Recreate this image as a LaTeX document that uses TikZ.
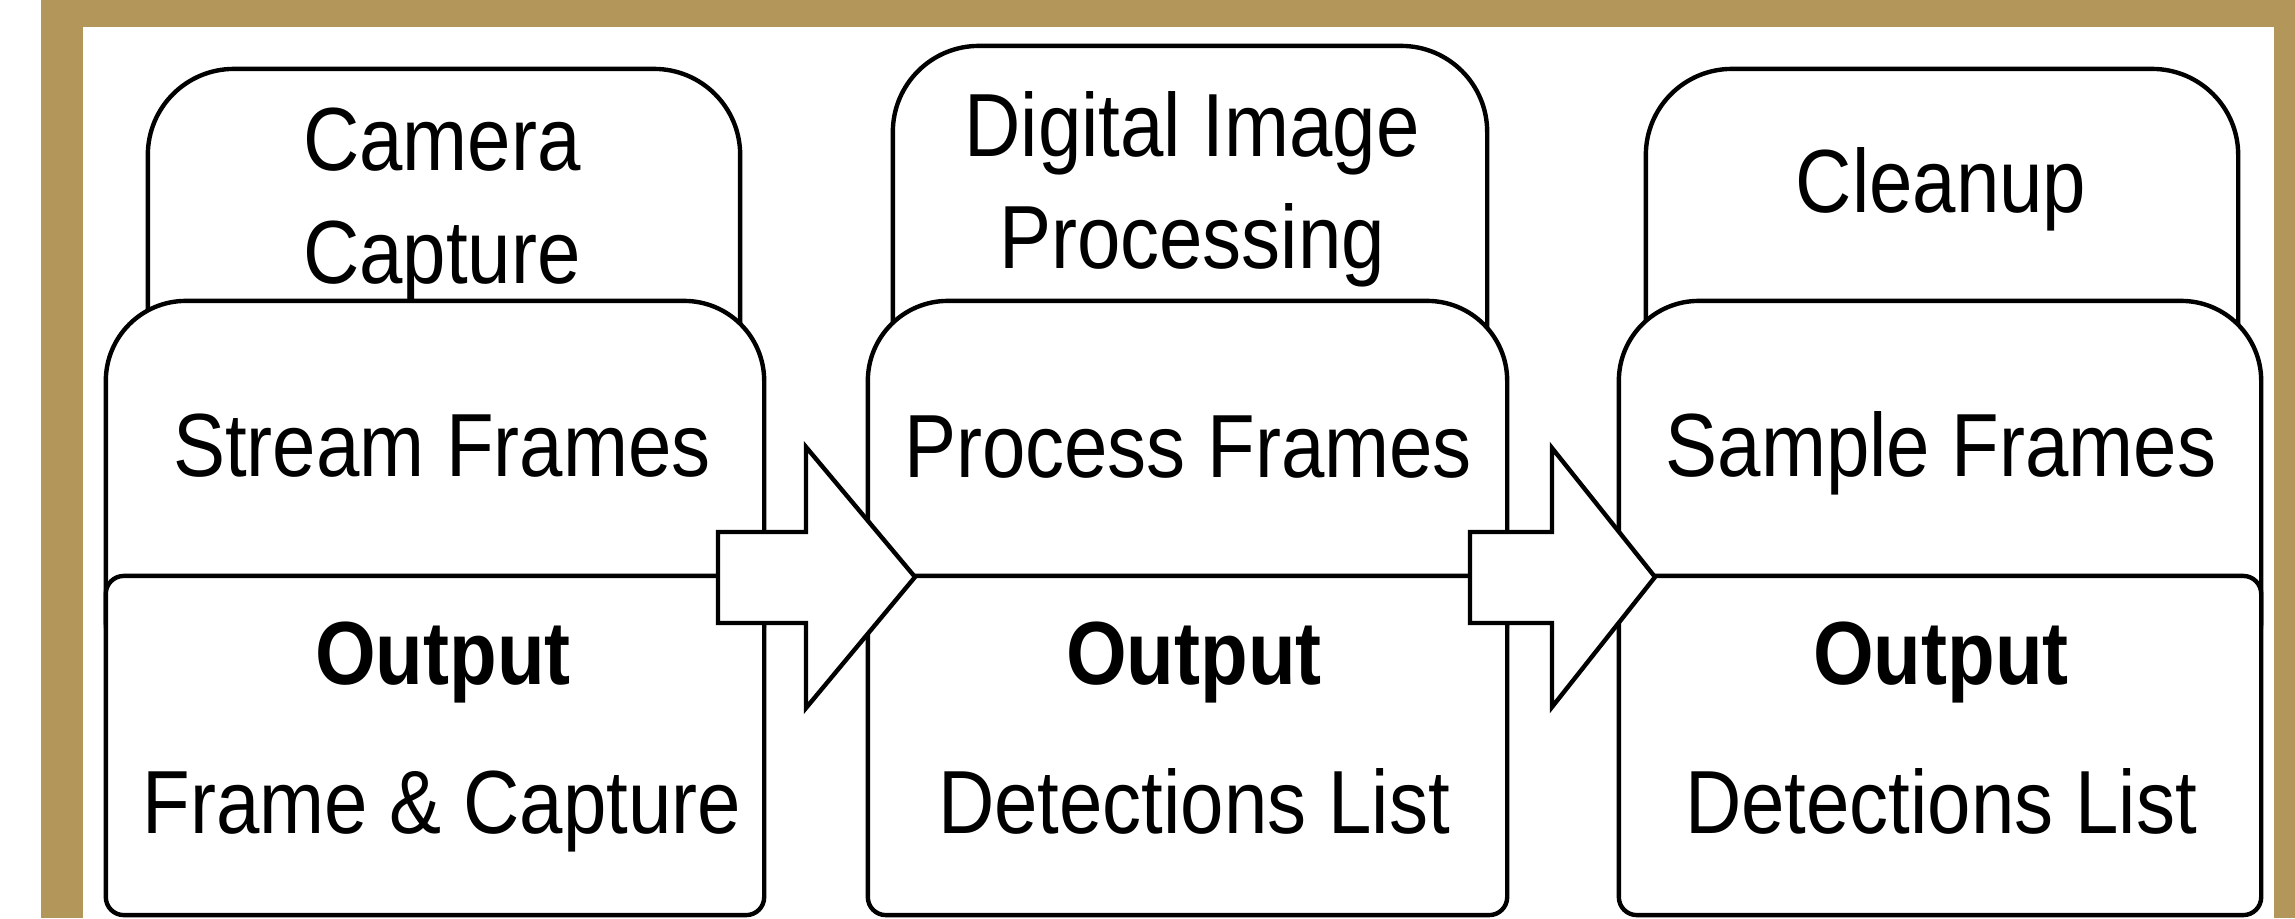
\documentclass[tikz,border=0pt]{standalone}
\usepackage{fontspec}
\setmainfont[FakeStretch=0.87]{Liberation Sans}
\definecolor{gold}{RGB}{179,151,90}
\tikzset{
  boxline/.style={draw=black, fill=white, line width=1.25pt, rectangle, inner sep=0pt},
  topbox/.style={boxline, rounded corners=0.86cm},
  midbox/.style={boxline, rounded corners=0.8cm},
  outbox/.style={boxline, rounded corners=0.18cm},
  lbl/.style={anchor=base, inner sep=0pt, font=\fontsize{25.5pt}{30pt}\selectfont},
  blbl/.style={lbl, font=\fontsize{25.5pt}{30pt}\selectfont\bfseries},
  blockarr/.style={draw=black, fill=white, line width=1.25pt, line join=miter}
}
\begin{document}
\begin{tikzpicture}[x=0.01cm, y=-0.01cm]
\useasboundingbox (0,0) rectangle (2295,918);
\fill[white] (0,0) rectangle (2295,918);
\fill[gold] (41,0) rectangle (83,918);
\fill[gold] (41,0) rectangle (2295,27);
\fill[gold] (2274,0) rectangle (2295,918);

% top boxes
\node[topbox, minimum width=5.92cm, minimum height=3.61cm] (c1top) at (444,249.5) {};
\node[topbox, minimum width=5.94cm, minimum height=3.84cm] (c2top) at (1190,238) {};
\node[topbox, minimum width=5.92cm, minimum height=3.61cm] (c3top) at (1942,249.5) {};

% middle boxes
\node[midbox, minimum width=6.58cm, minimum height=3.99cm] (c1mid) at (435,500.5) {};
\node[midbox, minimum width=6.39cm, minimum height=3.99cm] (c2mid) at (1187.5,500.5) {};
\node[midbox, minimum width=6.42cm, minimum height=3.99cm] (c3mid) at (1940,500.5) {};

% output boxes
\node[outbox, minimum width=6.58cm, minimum height=3.39cm] (c1out) at (435,745.5) {};
\node[outbox, minimum width=6.39cm, minimum height=3.39cm] (c2out) at (1187.5,745.5) {};
\node[outbox, minimum width=6.42cm, minimum height=3.39cm] (c3out) at (1940,745.5) {};

% block arrows
\coordinate (a1tip) at (915,577);
\coordinate (a2tip) at (1655,577);
\draw[blockarr] (a1tip) -- (806,447) -- (806,532) -- (718,532) -- (718,623) -- (806,623) -- (806,708) -- cycle;
\draw[blockarr] (a2tip) -- (1552,448) -- (1552,532) -- (1470,532) -- (1470,623) -- (1552,623) -- (1552,707) -- cycle;

% texts column 1
\node[lbl] (t1a) at (442,170) {Camera};
\node[lbl] (t1b) at (442,283) {Capture};
\node[lbl] (t1c) at (442,476) {Stream Frames};
\node[blbl] (t1d) at (443,684) {Output};
\node[lbl] (t1e) at (442,833) {Frame \& Capture};

% texts column 2
\node[lbl] (t2a) at (1192,156) {Digital Image};
\node[lbl] (t2b) at (1192,268) {Processing};
\node[lbl] (t2c) at (1188,477) {Process Frames};
\node[blbl] (t2d) at (1194,684) {Output};
\node[lbl] (t2e) at (1194,833) {Detections List};

% texts column 3
\node[lbl] (t3a) at (1941,212) {Cleanup};
\node[lbl] (t3c) at (1941,476) {Sample Frames};
\node[blbl] (t3d) at (1941,684) {Output};
\node[lbl] (t3e) at (1941,833) {Detections List};
\end{tikzpicture}
\end{document}
